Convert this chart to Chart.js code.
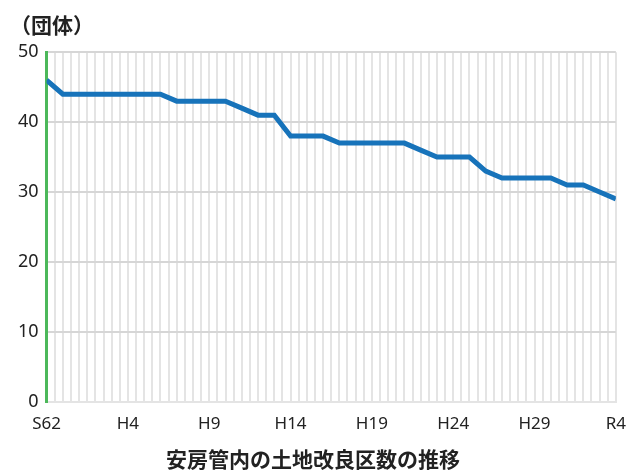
<!DOCTYPE html>
<html>
<head>
<meta charset="utf-8">
<script src="https://cdn.jsdelivr.net/npm/chart.js@4"></script>
<style>
  html, body { margin: 0; padding: 0; background: #fff; }
  #wrap { width: 640px; height: 472px; }
</style>
</head>
<body>
<div id="wrap"><canvas id="chart"></canvas></div>
<script>
// 年度ラベル（S62〜R4）
const years = ['S62', 'S63', 'H1', 'H2', 'H3', 'H4', 'H5', 'H6', 'H7', 'H8',
  'H9', 'H10', 'H11', 'H12', 'H13', 'H14', 'H15', 'H16', 'H17', 'H18',
  'H19', 'H20', 'H21', 'H22', 'H23', 'H24', 'H25', 'H26', 'H27', 'H28',
  'H29', 'H30', 'R1', 'R2', 'R3', 'R4'];

// 土地改良区数
const counts = [46, 44, 44, 44, 44, 44, 44, 44, 43, 43,
  43, 43, 42, 41, 41, 38, 38, 38, 37, 37,
  37, 37, 37, 36, 35, 35, 35, 33, 32, 32,
  32, 32, 31, 31, 30, 29];

const yTicks = [0, 10, 20, 30, 40, 50];

const font = '"Noto Sans CJK JP", "Noto Sans", sans-serif';
const tickFont = '"Noto Sans", "Noto Sans CJK JP", sans-serif';

document.addEventListener('DOMContentLoaded', function() {
    const points = counts.map((v, i) => ({ x: i, y: v }));
    const ctx = document.getElementById('chart').getContext('2d');
    new Chart(ctx, {
        type: 'line',
        data: {
            datasets: [{
                data: points,
                borderColor: '#1773ba',
                borderWidth: 5,
                pointRadius: 0,
                tension: 0,
                borderJoinStyle: 'miter'
            }]
        },
        options: {
            responsive: true,
            maintainAspectRatio: false,
            animation: false,
            layout: { padding: { left: 10, right: 24, top: 12, bottom: 0 } },
            plugins: {
                legend: { display: false },
                tooltip: { enabled: false },
                title: {
                    display: true,
                    text: '（団体）',
                    align: 'start',
                    color: '#222',
                    font: { family: font, size: 21, weight: 'bold' },
                    padding: { top: 0, bottom: 15 }
                },
                subtitle: {
                    display: true,
                    text: '安房管内の土地改良区数の推移',
                    position: 'bottom',
                    color: '#222',
                    font: { family: font, size: 21, weight: 'bold' },
                    padding: { top: 0, bottom: 0 }
                }
            },
            scales: {
                x: {
                    type: 'linear',
                    min: 0,
                    max: years.length - 1,
                    grid: { color: '#e4e4e4', lineWidth: 2, drawTicks: false },
                    border: { display: true, color: '#e4e4e4', width: 2 },
                    ticks: {
                        stepSize: 0.5,
                        autoSkip: false,
                        maxRotation: 0,
                        padding: 14,
                        color: '#222',
                        font: { family: tickFont, size: 17, lineHeight: 1.0 },
                        callback: function(value) {
                            if (Number.isInteger(value) && value % 5 === 0) return years[value];
                            return '';
                        }
                    }
                },
                y: {
                    min: 0,
                    max: 50,
                    afterBuildTicks: function(axis) {
                        axis.ticks = yTicks.map(v => ({ value: v }));
                    },
                    grid: { color: '#d6d6d6', lineWidth: 2, drawTicks: false },
                    border: { display: true, color: '#4cb85a', width: 3 },
                    ticks: {
                        padding: 8,
                        color: '#222',
                        font: { family: tickFont, size: 18 }
                    }
                }
            }
        }
    });
});
</script>
</body>
</html>
